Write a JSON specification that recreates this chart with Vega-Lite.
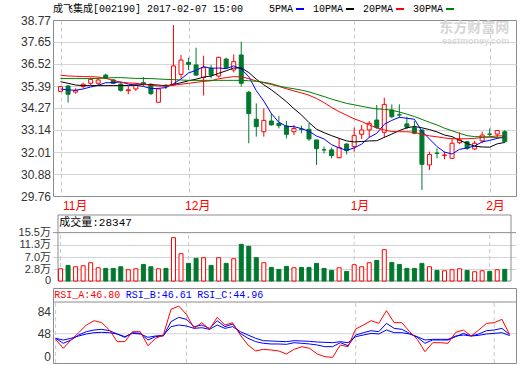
{
"$schema": "https://vega.github.io/schema/vega-lite/v6.json",
"padding": {"left": 18, "top": 3, "right": 0, "bottom": 0},
"background": "white",
"bounds": "flush",
"spacing": 7,
"datasets": {
"k": [
{"i":0,"date":"2016-11-08","open":35.12,"high":35.39,"low":35.08,"close":35.36,"vol":3.03,"ma5":35.24,"ma10":35.61,"ma20":35.95,"ma30":35.78,"rsiA":38.8,"rsiB":40.5,"rsiC":40.5},
{"i":1,"date":"2016-11-09","open":35.39,"high":35.44,"low":34.54,"close":34.97,"vol":4.19,"ma5":35.19,"ma10":35.53,"ma20":35.90,"ma30":35.77,"rsiA":24.1,"rsiB":32.3,"rsiC":37.7},
{"i":2,"date":"2016-11-10","open":35.08,"high":35.27,"low":35.00,"close":35.17,"vol":3.72,"ma5":35.17,"ma10":35.44,"ma20":35.89,"ma30":35.77,"rsiA":37.7,"rsiB":37.7,"rsiC":40.5},
{"i":3,"date":"2016-11-11","open":35.36,"high":35.56,"low":35.27,"close":35.48,"vol":4.07,"ma5":35.24,"ma10":35.41,"ma20":35.87,"ma30":35.77,"rsiA":49.7,"rsiB":45.9,"rsiC":44.3},
{"i":4,"date":"2016-11-14","open":35.53,"high":35.82,"low":35.44,"close":35.73,"vol":5.11,"ma5":35.34,"ma10":35.41,"ma20":35.87,"ma30":35.77,"rsiA":62.3,"rsiB":51.4,"rsiC":47.6},
{"i":5,"date":"2016-11-15","open":35.53,"high":35.82,"low":35.41,"close":35.70,"vol":3.38,"ma5":35.43,"ma10":35.41,"ma20":35.85,"ma30":35.78,"rsiA":69.4,"rsiB":54.1,"rsiC":49.7},
{"i":6,"date":"2016-11-16","open":35.95,"high":36.02,"low":35.75,"close":35.78,"vol":3.15,"ma5":35.56,"ma10":35.41,"ma20":35.78,"ma30":35.80,"rsiA":66.1,"rsiB":55.2,"rsiC":50.3},
{"i":7,"date":"2016-11-17","open":35.70,"high":35.75,"low":35.49,"close":35.53,"vol":3.15,"ma5":35.56,"ma10":35.41,"ma20":35.68,"ma30":35.82,"rsiA":54.1,"rsiB":53.0,"rsiC":49.7},
{"i":8,"date":"2016-11-18","open":35.49,"high":35.56,"low":35.10,"close":35.17,"vol":3.72,"ma5":35.60,"ma10":35.41,"ma20":35.58,"ma30":35.82,"rsiA":35.0,"rsiB":47.6,"rsiC":47.6},
{"i":9,"date":"2016-11-21","open":35.15,"high":35.39,"low":34.97,"close":35.20,"vol":2.68,"ma5":35.49,"ma10":35.42,"ma20":35.55,"ma30":35.80,"rsiA":35.0,"rsiB":42.1,"rsiC":43.2},
{"i":10,"date":"2016-11-22","open":35.24,"high":35.53,"low":35.14,"close":35.44,"vol":3.03,"ma5":35.43,"ma10":35.43,"ma20":35.53,"ma30":35.78,"rsiA":51.4,"rsiB":49.7,"rsiC":48.6},
{"i":11,"date":"2016-11-23","open":35.56,"high":35.85,"low":35.39,"close":35.48,"vol":4.53,"ma5":35.37,"ma10":35.48,"ma20":35.48,"ma30":35.78,"rsiA":51.4,"rsiB":48.6,"rsiC":47.6},
{"i":12,"date":"2016-11-24","open":35.48,"high":35.53,"low":34.93,"close":35.00,"vol":3.72,"ma5":35.26,"ma10":35.46,"ma20":35.43,"ma30":35.77,"rsiA":28.4,"rsiB":37.7,"rsiC":42.1},
{"i":13,"date":"2016-11-25","open":34.56,"high":35.27,"low":34.54,"close":35.24,"vol":3.03,"ma5":35.27,"ma10":35.44,"ma20":35.39,"ma30":35.75,"rsiA":40.5,"rsiB":43.2,"rsiC":44.3},
{"i":14,"date":"2016-11-28","open":35.43,"high":35.49,"low":35.24,"close":35.39,"vol":3.15,"ma5":35.31,"ma10":35.40,"ma20":35.39,"ma30":35.73,"rsiA":45.9,"rsiB":44.3,"rsiC":45.4},
{"i":15,"date":"2016-11-29","open":35.44,"high":38.51,"low":35.41,"close":36.42,"vol":13.77,"ma5":35.51,"ma10":35.47,"ma20":35.44,"ma30":35.72,"rsiA":88.0,"rsiB":67.8,"rsiC":59.6},
{"i":16,"date":"2016-11-30","open":35.99,"high":36.98,"low":35.78,"close":36.72,"vol":8.23,"ma5":35.75,"ma10":35.56,"ma20":35.48,"ma30":35.70,"rsiA":93.4,"rsiB":74.9,"rsiC":62.3},
{"i":17,"date":"2016-12-01","open":36.60,"high":36.84,"low":36.21,"close":36.50,"vol":4.88,"ma5":36.06,"ma10":35.66,"ma20":35.53,"ma30":35.68,"rsiA":79.8,"rsiB":71.6,"rsiC":60.7},
{"i":18,"date":"2016-12-02","open":36.47,"high":37.35,"low":35.90,"close":35.95,"vol":6.61,"ma5":36.19,"ma10":35.74,"ma20":35.58,"ma30":35.68,"rsiA":56.8,"rsiB":59.6,"rsiC":56.8},
{"i":19,"date":"2016-12-05","open":35.82,"high":36.94,"low":34.90,"close":36.33,"vol":6.84,"ma5":36.38,"ma10":35.85,"ma20":35.63,"ma30":35.68,"rsiA":66.1,"rsiB":62.3,"rsiC":57.9},
{"i":20,"date":"2016-12-06","open":36.30,"high":36.47,"low":35.78,"close":35.95,"vol":4.19,"ma5":36.30,"ma10":35.90,"ma20":35.66,"ma30":35.68,"rsiA":55.2,"rsiB":56.8,"rsiC":55.2},
{"i":21,"date":"2016-12-07","open":35.90,"high":36.89,"low":35.82,"close":36.86,"vol":6.84,"ma5":36.31,"ma10":36.04,"ma20":35.76,"ma30":35.68,"rsiA":74.9,"rsiB":69.4,"rsiC":62.3},
{"i":22,"date":"2016-12-08","open":36.77,"high":36.84,"low":36.26,"close":36.33,"vol":4.88,"ma5":36.28,"ma10":36.17,"ma20":35.82,"ma30":35.68,"rsiA":62.3,"rsiB":59.6,"rsiC":56.8},
{"i":23,"date":"2016-12-09","open":36.21,"high":37.01,"low":36.09,"close":36.64,"vol":6.50,"ma5":36.42,"ma10":36.31,"ma20":35.87,"ma30":35.68,"rsiA":66.1,"rsiB":63.9,"rsiC":59.6},
{"i":24,"date":"2016-12-12","open":36.98,"high":37.66,"low":35.36,"close":35.53,"vol":11.46,"ma5":36.26,"ma10":36.32,"ma20":35.86,"ma30":35.68,"rsiA":45.9,"rsiB":48.6,"rsiC":51.4},
{"i":25,"date":"2016-12-13","open":35.07,"high":35.14,"low":32.46,"close":33.98,"vol":10.77,"ma5":35.87,"ma10":36.08,"ma20":35.77,"ma30":35.66,"rsiA":29.5,"rsiB":40.5,"rsiC":45.9},
{"i":26,"date":"2016-12-14","open":33.69,"high":34.50,"low":32.80,"close":33.31,"vol":6.84,"ma5":35.15,"ma10":35.74,"ma20":35.65,"ma30":35.63,"rsiA":19.7,"rsiB":35.0,"rsiC":40.5},
{"i":27,"date":"2016-12-15","open":33.05,"high":34.25,"low":32.80,"close":33.63,"vol":5.11,"ma5":34.62,"ma10":35.45,"ma20":35.56,"ma30":35.58,"rsiA":22.4,"rsiB":32.3,"rsiC":36.6},
{"i":28,"date":"2016-12-16","open":33.60,"high":33.99,"low":33.36,"close":33.40,"vol":3.49,"ma5":33.98,"ma10":35.20,"ma20":35.47,"ma30":35.51,"rsiA":21.3,"rsiB":31.2,"rsiC":36.1},
{"i":29,"date":"2016-12-19","open":33.48,"high":33.86,"low":33.22,"close":33.36,"vol":2.80,"ma5":33.53,"ma10":34.90,"ma20":35.37,"ma30":35.39,"rsiA":19.7,"rsiB":31.2,"rsiC":35.5},
{"i":30,"date":"2016-12-20","open":33.34,"high":33.60,"low":32.71,"close":32.92,"vol":3.84,"ma5":33.33,"ma10":34.59,"ma20":35.25,"ma30":35.31,"rsiA":14.8,"rsiB":30.6,"rsiC":35.0},
{"i":31,"date":"2016-12-21","open":33.05,"high":33.40,"low":32.88,"close":33.22,"vol":3.38,"ma5":33.31,"ma10":34.23,"ma20":35.14,"ma30":35.25,"rsiA":22.4,"rsiB":33.3,"rsiC":36.6},
{"i":32,"date":"2016-12-22","open":33.19,"high":33.36,"low":32.97,"close":33.17,"vol":3.49,"ma5":33.21,"ma10":33.91,"ma20":35.04,"ma30":35.18,"rsiA":26.8,"rsiB":32.3,"rsiC":36.1},
{"i":33,"date":"2016-12-23","open":33.17,"high":33.48,"low":32.58,"close":32.68,"vol":3.49,"ma5":33.07,"ma10":33.52,"ma20":34.92,"ma30":35.09,"rsiA":24.1,"rsiB":31.2,"rsiC":35.5},
{"i":34,"date":"2016-12-26","open":32.63,"high":32.63,"low":31.35,"close":32.18,"vol":4.88,"ma5":32.83,"ma10":33.18,"ma20":34.75,"ma30":34.97,"rsiA":14.8,"rsiB":29.5,"rsiC":34.4},
{"i":35,"date":"2016-12-27","open":32.13,"high":32.29,"low":31.94,"close":32.12,"vol":3.15,"ma5":32.68,"ma10":33.00,"ma20":34.54,"ma30":34.85,"rsiA":10.4,"rsiB":26.8,"rsiC":33.9},
{"i":36,"date":"2016-12-28","open":32.12,"high":32.24,"low":31.69,"close":31.83,"vol":2.45,"ma5":32.39,"ma10":32.85,"ma20":34.29,"ma30":34.72,"rsiA":9.3,"rsiB":26.8,"rsiC":33.3},
{"i":37,"date":"2016-12-29","open":31.72,"high":32.71,"low":31.69,"close":32.25,"vol":3.38,"ma5":32.22,"ma10":32.71,"ma20":34.08,"ma30":34.61,"rsiA":29.5,"rsiB":33.3,"rsiC":35.0},
{"i":38,"date":"2016-12-30","open":32.42,"high":32.46,"low":31.89,"close":32.08,"vol":2.11,"ma5":32.10,"ma10":32.58,"ma20":33.89,"ma30":34.50,"rsiA":26.8,"rsiB":28.4,"rsiC":33.3},
{"i":39,"date":"2017-01-03","open":32.29,"high":33.26,"low":32.03,"close":32.85,"vol":4.42,"ma5":32.22,"ma10":32.53,"ma20":33.71,"ma30":34.43,"rsiA":55.7,"rsiB":45.9,"rsiC":43.2},
{"i":40,"date":"2017-01-04","open":32.92,"high":33.40,"low":32.68,"close":33.14,"vol":3.72,"ma5":32.42,"ma10":32.55,"ma20":33.57,"ma30":34.35,"rsiA":62.3,"rsiB":49.7,"rsiC":45.9},
{"i":41,"date":"2017-01-05","open":33.14,"high":33.60,"low":32.75,"close":33.48,"vol":5.11,"ma5":32.76,"ma10":32.58,"ma20":33.40,"ma30":34.28,"rsiA":69.4,"rsiB":53.0,"rsiC":48.6},
{"i":42,"date":"2017-01-06","open":33.65,"high":34.42,"low":33.19,"close":33.26,"vol":5.92,"ma5":32.97,"ma10":32.59,"ma20":33.25,"ma30":34.22,"rsiA":65.0,"rsiB":51.4,"rsiC":47.6},
{"i":43,"date":"2017-01-09","open":33.02,"high":34.79,"low":32.75,"close":34.45,"vol":9.61,"ma5":33.43,"ma10":32.76,"ma20":33.14,"ma30":34.20,"rsiA":85.8,"rsiB":65.0,"rsiC":54.1},
{"i":44,"date":"2017-01-10","open":34.16,"high":34.45,"low":33.74,"close":33.82,"vol":5.22,"ma5":33.63,"ma10":32.93,"ma20":33.06,"ma30":34.15,"rsiA":66.1,"rsiB":56.8,"rsiC":49.7},
{"i":45,"date":"2017-01-11","open":33.92,"high":34.45,"low":33.77,"close":33.91,"vol":4.53,"ma5":33.79,"ma10":33.11,"ma20":33.05,"ma30":34.06,"rsiA":66.1,"rsiB":55.2,"rsiC":49.7},
{"i":46,"date":"2017-01-12","open":33.45,"high":33.82,"low":33.19,"close":33.28,"vol":3.15,"ma5":33.74,"ma10":33.25,"ma20":33.05,"ma30":33.95,"rsiA":51.4,"rsiB":48.6,"rsiC":47.6},
{"i":47,"date":"2017-01-13","open":33.26,"high":33.60,"low":32.92,"close":32.97,"vol":3.15,"ma5":33.69,"ma10":33.32,"ma20":33.02,"ma30":33.83,"rsiA":38.8,"rsiB":42.1,"rsiC":43.2},
{"i":48,"date":"2017-01-16","open":33.14,"high":33.14,"low":30.07,"close":31.38,"vol":4.88,"ma5":33.07,"ma10":33.25,"ma20":32.92,"ma30":33.68,"rsiA":18.6,"rsiB":32.3,"rsiC":37.7},
{"i":49,"date":"2017-01-17","open":31.35,"high":32.03,"low":31.09,"close":31.89,"vol":3.72,"ma5":32.68,"ma10":33.16,"ma20":32.84,"ma30":33.53,"rsiA":33.3,"rsiB":37.7,"rsiC":38.8},
{"i":50,"date":"2017-01-18","open":31.96,"high":32.20,"low":31.69,"close":31.94,"vol":2.45,"ma5":32.29,"ma10":33.04,"ma20":32.79,"ma30":33.40,"rsiA":33.3,"rsiB":37.7,"rsiC":38.8},
{"i":51,"date":"2017-01-19","open":31.84,"high":32.03,"low":31.64,"close":31.86,"vol":2.34,"ma5":32.01,"ma10":32.88,"ma20":32.73,"ma30":33.23,"rsiA":32.3,"rsiB":37.7,"rsiC":38.8},
{"i":52,"date":"2017-01-20","open":31.69,"high":32.71,"low":31.65,"close":32.46,"vol":2.68,"ma5":31.91,"ma10":32.80,"ma20":32.69,"ma30":33.10,"rsiA":50.3,"rsiB":43.2,"rsiC":44.3},
{"i":53,"date":"2017-01-23","open":32.49,"high":33.02,"low":32.41,"close":32.63,"vol":3.03,"ma5":32.15,"ma10":32.61,"ma20":32.69,"ma30":32.97,"rsiA":54.1,"rsiB":48.6,"rsiC":45.9},
{"i":54,"date":"2017-01-24","open":32.54,"high":32.58,"low":32.12,"close":32.20,"vol":2.45,"ma5":32.22,"ma10":32.45,"ma20":32.69,"ma30":32.85,"rsiA":44.3,"rsiB":44.3,"rsiC":44.3},
{"i":55,"date":"2017-01-25","open":32.17,"high":32.58,"low":32.12,"close":32.46,"vol":1.99,"ma5":32.32,"ma10":32.31,"ma20":32.71,"ma30":32.80,"rsiA":54.1,"rsiB":47.6,"rsiC":45.4},
{"i":56,"date":"2017-01-26","open":32.58,"high":33.05,"low":32.46,"close":32.88,"vol":2.34,"ma5":32.53,"ma10":32.27,"ma20":32.76,"ma30":32.79,"rsiA":65.0,"rsiB":53.0,"rsiC":47.6},
{"i":57,"date":"2017-02-03","open":32.93,"high":33.22,"low":32.80,"close":32.92,"vol":2.11,"ma5":32.61,"ma10":32.26,"ma20":32.79,"ma30":32.77,"rsiA":66.1,"rsiB":54.1,"rsiC":48.6},
{"i":58,"date":"2017-02-06","open":32.93,"high":33.14,"low":32.71,"close":33.11,"vol":2.68,"ma5":32.71,"ma10":32.43,"ma20":32.84,"ma30":32.76,"rsiA":71.6,"rsiB":56.8,"rsiC":49.7},
{"i":59,"date":"2017-02-07","open":33.05,"high":33.14,"low":32.51,"close":32.54,"vol":2.83,"ma5":32.78,"ma10":32.50,"ma20":32.83,"ma30":32.73,"rsiA":46.8,"rsiB":46.61,"rsiC":44.96}
],
"months": [{"i":0,"m":"11月"},{"i":17,"m":"12月"},{"i":39,"m":"1月"},{"i":57,"m":"2月"}]
},
"data": {"name": "k"},
"config": {
"view": {"stroke": "#8c8c8c", "strokeWidth": 1},
"axis": {"labelFont": "Liberation Sans, Noto Sans CJK SC", "labelFontSize": 12, "labelColor": "#333333", "ticks": false, "domain": false, "title": null, "labelPadding": 2.5, "labelOverlap": false}
},
"vconcat": [
{
"width": 463, "height": 176,
"title": {"text": "成飞集成[002190] 2017-02-07 15:00", "anchor": "start", "frame": "group", "font": "Liberation Mono, Noto Sans CJK SC", "fontSize": 10, "fontWeight": "normal", "color": "#000000", "offset": 0},
"layer": [
{"mark": {"type": "rule", "strokeWidth": 1},
"encoding": {
"x": {"field": "i", "type": "quantitative", "scale": {"domain": [-0.338, 59.83], "nice": false, "zero": false},
"axis": {"values": [0, 17, 39, 57], "tickCount": 30, "labelOverlap": false, "labelExpr": "datum.value == 0 ? '11月' : datum.value == 17 ? '12月' : datum.value == 39 ? '1月' : '2月'", "labelColor": "#ff0000", "labelAlign": "left", "labelBaseline": "top", "labelOffset": {"condition": {"test": "datum.value == 0", "value": 2}, "value": -4}, "labelPadding": 4, "grid": true, "gridDash": [4, 3], "gridColor": "#c8c8c8"}},
"y": {"field": "low", "type": "quantitative", "scale": {"domain": [29.76, 38.77], "nice": false, "zero": false},
"axis": {"values": [29.76, 30.88, 32.01, 33.14, 34.27, 35.39, 36.52, 37.65, 38.77], "tickCount": 30, "labelOverlap": false, "format": ".2f", "grid": true, "gridColor": {"condition": {"test": "datum.value < 29.8 || datum.value > 38.7", "value": "rgba(0,0,0,0)"}, "value": "#d4d4d4"}}},
"y2": {"field": "high"},
"color": {"condition": {"test": "datum.close >= datum.open", "value": "#ff0000"}, "value": "#00792f"}
}},
{"mark": {"type": "bar", "size": 4, "strokeWidth": 1},
"encoding": {
"x": {"field": "i", "type": "quantitative"},
"y": {"field": "open", "type": "quantitative"},
"y2": {"field": "close"},
"fill": {"condition": {"test": "datum.close >= datum.open", "value": "#ffffff"}, "value": "#00792f"},
"stroke": {"condition": {"test": "datum.close >= datum.open", "value": "#ff0000"}, "value": "#00792f"}
}},
{"transform": [{"fold": ["ma5", "ma10", "ma20", "ma30"], "as": ["key", "val"]}],
"mark": {"type": "line", "strokeWidth": 1},
"encoding": {
"x": {"field": "i", "type": "quantitative"},
"y": {"field": "val", "type": "quantitative"},
"color": {"field": "key", "type": "nominal", "sort": ["ma5", "ma10", "ma20", "ma30"],
"scale": {"domain": ["ma5", "ma10", "ma20", "ma30"], "range": ["#0000ff", "#000000", "#ff0000", "#008000"]},
"legend": {"title": null, "orient": "none", "legendX": 242, "legendY": -16, "direction": "horizontal", "symbolType": "stroke", "symbolSize": 64, "symbolStrokeWidth": 2, "labelAlign": "right", "labelOffset": -12, "labelFont": "Liberation Mono", "labelFontSize": 10, "labelColor": "#000000", "columnPadding": 4, "padding": 0, "labelExpr": "replace(datum.label, 'ma', '') + 'PMA'"}}
}},
{"data": {"values": [{}]},
"mark": {"type": "text", "text": "东方财富网", "align": "right", "baseline": "middle", "font": "Noto Sans CJK SC", "fontSize": 14, "fontWeight": "bold", "color": "#d6d6d6"},
"encoding": {"x": {"datum": 59.6}, "y": {"datum": 38.36}}},
{"data": {"values": [{}]},
"mark": {"type": "text", "text": "eastmoney.com", "align": "right", "baseline": "middle", "font": "Liberation Sans", "fontSize": 9, "fontWeight": "bold", "color": "#dadada"},
"encoding": {"x": {"datum": 59.6}, "y": {"datum": 37.70}}}
]
},
{
"width": 463, "height": 78,
"view": {"stroke": null},
"layer": [
{"data": {"values": [{}]},
"mark": {"type": "rect", "fill": "transparent", "stroke": "#8c8c8c", "strokeWidth": 1},
"encoding": {"x": {"datum": -0.338, "axis": null}, "x2": {"datum": 59.83}, "y": {"datum": -1.2}, "y2": {"datum": 21.6}}},
{"data": {"name": "months"},
"mark": {"type": "rule", "strokeDash": [4, 3], "color": "#c8c8c8"},
"encoding": {"x": {"field": "i", "type": "quantitative", "axis": null}, "y": {"datum": -1.2}, "y2": {"datum": 15.5}}},
{"data": {"values": [{}]},
"mark": {"type": "rule", "color": "#8c8c8c"},
"encoding": {"y": {"datum": 15.5}}},
{"mark": {"type": "bar", "size": 4, "strokeWidth": 1},
"encoding": {
"x": {"field": "i", "type": "quantitative", "scale": {"domain": [-0.338, 59.83], "nice": false, "zero": false}, "axis": null},
"y": {"field": "vol", "type": "quantitative", "scale": {"domain": [-1.2, 25.74], "nice": false, "zero": false},
"axis": {"values": [0, 2.8, 7, 11.3, 15.5], "tickCount": 30, "labelOverlap": false, "labelFontSize": 11, "labelOffset": {"condition": {"test": "datum.value == 0", "value": 3}, "value": 0}, "format": ".1f", "labelExpr": "datum.value == 0 ? '0' : datum.label + '万'", "grid": true, "gridColor": {"condition": {"test": "datum.value == 0 || datum.value == 15.5", "value": "rgba(0,0,0,0)"}, "value": "#d4d4d4"}}},
"y2": {"datum": -1.2},
"fill": {"condition": {"test": "datum.close >= datum.open", "value": "#ffffff"}, "value": "#00792f"},
"stroke": {"condition": {"test": "datum.close >= datum.open", "value": "#ff0000"}, "value": "#00792f"}
}},
{"data": {"values": [{}]},
"mark": {"type": "text", "text": "成交量:28347", "align": "left", "baseline": "middle", "font": "Liberation Mono, Noto Sans CJK SC", "fontSize": 11, "color": "#000000"},
"encoding": {"x": {"datum": -0.17, "axis": null}, "y": {"datum": 18.83}}}
]
},
{
"width": 463, "height": 75,
"layer": [
{"data": {"name": "months"},
"mark": {"type": "rule", "strokeDash": [4, 3], "color": "#c8c8c8"},
"encoding": {"x": {"field": "i", "type": "quantitative", "axis": null}, "y": {"datum": 0}, "y2": {"datum": 100}}},
{"data": {"values": [{}]},
"mark": {"type": "rule", "color": "#d4d4d4"},
"encoding": {"y": {"datum": 48}}},
{"data": {"values": [{}]},
"mark": {"type": "rule", "color": "#8c8c8c"},
"encoding": {"y": {"datum": 100}}},
{"mark": {"type": "line", "color": "#0000ff", "strokeWidth": 1},
"encoding": {
"x": {"field": "i", "type": "quantitative", "scale": {"domain": [-0.338, 59.83], "nice": false, "zero": false}, "axis": null},
"y": {"field": "rsiC", "type": "quantitative", "scale": {"domain": [0, 123], "nice": false, "zero": false},
"axis": {"values": [0, 48, 84], "tickCount": 30, "labelOverlap": false, "labelFlush": 1, "grid": false}}
}},
{"mark": {"type": "line", "color": "#0000ff", "strokeWidth": 1},
"encoding": {"x": {"field": "i", "type": "quantitative", "axis": null}, "y": {"field": "rsiB", "type": "quantitative"}}},
{"mark": {"type": "line", "color": "#ff0000", "strokeWidth": 1},
"encoding": {"x": {"field": "i", "type": "quantitative", "axis": null}, "y": {"field": "rsiA", "type": "quantitative"}}},
{"data": {"values": [{}]},
"mark": {"type": "text", "text": "RSI_A:46.80", "align": "left", "baseline": "middle", "font": "Liberation Mono", "fontSize": 10, "color": "#ff0000"},
"encoding": {"x": {"datum": -0.17, "axis": null}, "y": {"datum": 112.3}}},
{"data": {"values": [{}]},
"mark": {"type": "text", "text": "RSI_B:46.61", "align": "left", "baseline": "middle", "font": "Liberation Mono", "fontSize": 10, "color": "#0000ff"},
"encoding": {"x": {"datum": 9.1, "axis": null}, "y": {"datum": 112.3}}},
{"data": {"values": [{}]},
"mark": {"type": "text", "text": "RSI_C:44.96", "align": "left", "baseline": "middle", "font": "Liberation Mono", "fontSize": 10, "color": "#0000ff"},
"encoding": {"x": {"datum": 18.41, "axis": null}, "y": {"datum": 112.3}}}
]
}
]
}
